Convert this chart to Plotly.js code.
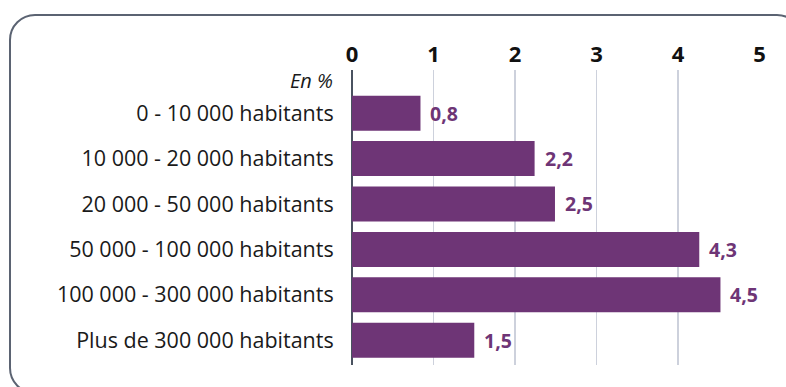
<!DOCTYPE html>
<html>
<head>
<meta charset="utf-8">
<script src="https://cdn.plot.ly/plotly-3.0.1.min.js"></script>
<style>
  html, body { margin: 0; padding: 0; background: #ffffff; overflow: hidden; }
  #wrap { position: relative; width: 786px; height: 387px; }
  #chart { position: absolute; left: 0; top: 0; width: 786px; height: 387px; }
  #frame { position: absolute; left: 9px; top: 14px; width: 790px; height: 376px;
           border: 2.5px solid #5b6372; border-radius: 26px; pointer-events: none; }
</style>
</head>
<body>
<div id="wrap">
  <div id="chart"></div>
  <div id="frame"></div>
</div>
<script>
const categories = [
  "0 - 10 000 habitants",
  "10 000 - 20 000 habitants",
  "20 000 - 50 000 habitants",
  "50 000 - 100 000 habitants",
  "100 000 - 300 000 habitants",
  "Plus de 300 000 habitants"
];
const values = [0.84, 2.24, 2.49, 4.26, 4.52, 1.5];
const valueLabels = ["0,8", "2,2", "2,5", "4,3", "4,5", "1,5"];
const xTicks = [0, 1, 2, 3, 4, 5];
const unitLabel = "En %";

const purple = "#6e3576";
const FONT = "Open Sans, sans-serif";

const trace = {
  type: "bar",
  orientation: "h",
  y: categories,
  x: values,
  marker: { color: purple, line: { width: 0 } },
  width: 0.77,
  hoverinfo: "skip"
};

const annotations = categories.map((c, i) => ({
  x: values[i], y: c, xref: "x", yref: "y",
  text: "<b>" + valueLabels[i] + "</b>",
  showarrow: false, xanchor: "left", yanchor: "middle", xshift: 8,
  font: { family: FONT, size: 19.5, color: purple }
}));
annotations.push({
  x: 0, xref: "paper", y: -0.72, yref: "y",
  text: "<i>" + unitLabel + "</i>",
  showarrow: false, xanchor: "right", yanchor: "middle", xshift: -17,
  font: { family: FONT, size: 20, color: "#1a1a1a" }
});

const layout = {
  width: 786, height: 387,
  margin: { l: 352, r: 26, t: 70, b: 22, pad: 0 },
  paper_bgcolor: "rgba(0,0,0,0)",
  plot_bgcolor: "rgba(0,0,0,0)",
  showlegend: false,
  font: { family: FONT, color: "#1a1a1a" },
  xaxis: {
    side: "top",
    range: [0, 5.005],
    tickvals: xTicks,
    ticktext: xTicks.map(String),
    showgrid: true, gridcolor: "#cdd1dc", gridwidth: 1.5,
    zeroline: true, zerolinecolor: "#4a5260", zerolinewidth: 2.5,
    showline: false,
    ticks: "", ticklabelstandoff: 3,
    tickfont: { family: FONT, size: 22, color: "#111111", weight: "bold" },
    fixedrange: true
  },
  yaxis: {
    type: "category",
    categoryorder: "array", categoryarray: categories,
    range: [5.546, -0.951],
    showgrid: false, zeroline: false, showline: false,
    ticks: "outside", ticklen: 13, tickcolor: "rgba(0,0,0,0)",
    tickfont: { family: FONT, size: 21.5, color: "#1a1a1a" },
    fixedrange: true
  },
  annotations: annotations
};

Plotly.newPlot("chart", [trace], layout, { displayModeBar: false, staticPlot: true });
</script>
</body>
</html>
